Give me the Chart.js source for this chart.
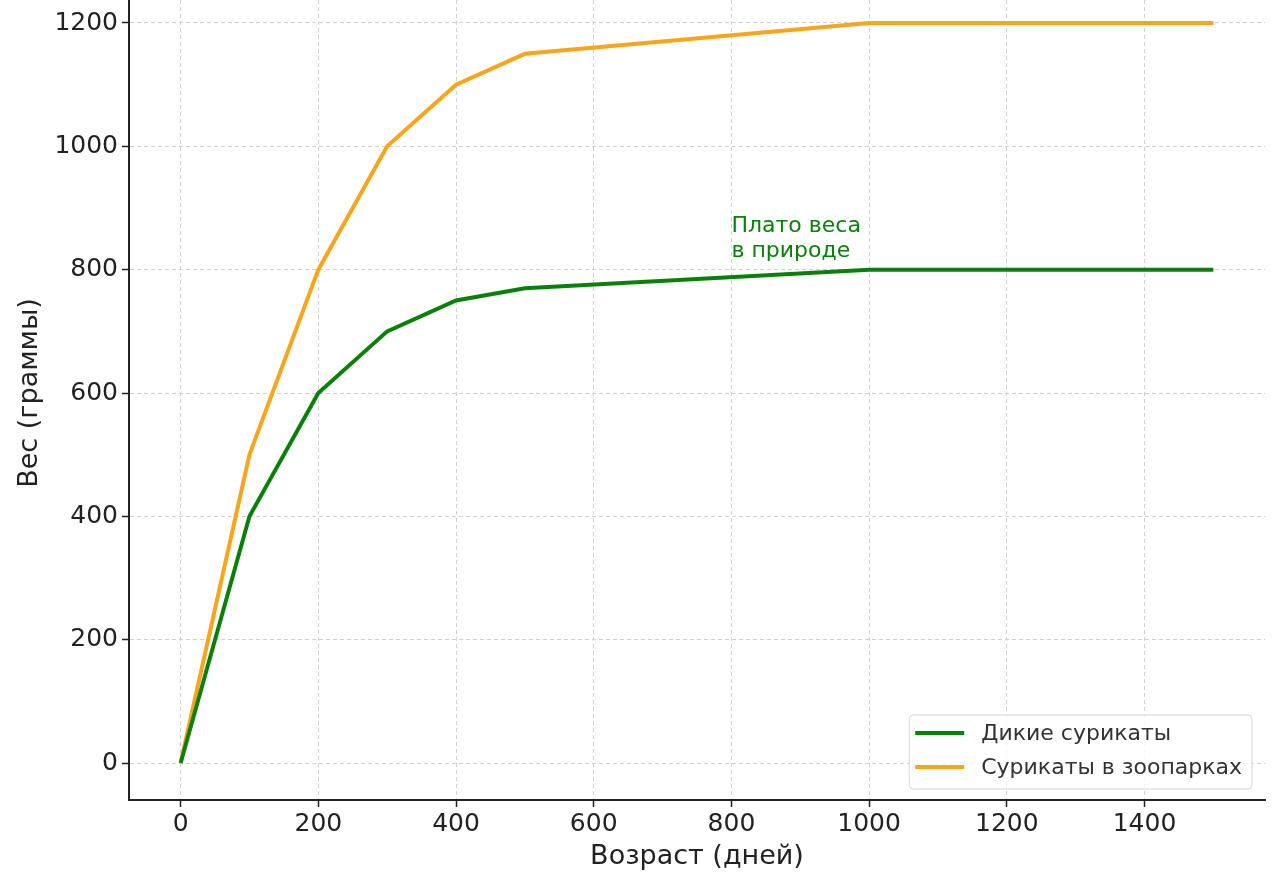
<!DOCTYPE html>
<html>
<head>
<meta charset="utf-8">
<script src="https://cdn.jsdelivr.net/npm/chart.js@4"></script>
<style>
  html, body { margin: 0; padding: 0; background: #fff; }
  #wrap { position: relative; width: 1280px; height: 887px; overflow: hidden; }
  #chart { position: absolute; left: 0; top: -14px; }
</style>
</head>
<body>
<div id="wrap"><canvas id="chart" width="1280" height="901"></canvas></div>
<script>
// ages in days
const ages = [0, 100, 200, 300, 400, 500, 1000, 1500];
// weight in grams
const wildWeight = [0, 400, 600, 700, 750, 770, 800, 800];
const zooWeight = [0, 500, 800, 1000, 1100, 1150, 1200, 1200];
const seriesNames = ["Дикие сурикаты", "Сурикаты в зоопарках"];
const seriesColors = ["#0a800a", "#f7a51c"];
const xTicks = [0, 200, 400, 600, 800, 1000, 1200, 1400];
const yTicks = [0, 200, 400, 600, 800, 1000, 1200];
const note = { x: 800, y: 820, lines: ["Плато веса", "в природе"] };

const FONT = "'DejaVu Sans', sans-serif";

function toPoints(ys) {
  return ages.map((a, i) => ({ x: a, y: ys[i] }));
}

// legend box in lower right, matplotlib style
const legendBox = {
  id: "legendBox",
  afterDatasetsDraw(chart) {
    const { ctx, chartArea } = chart;
    ctx.save();
    ctx.font = "22px " + FONT;
    const textW = Math.max(...seriesNames.map(n => ctx.measureText(n).width));
    const w = 6 + 49 + 17 + textW + 10;
    const h = 74;
    const right = chartArea.right - 13;
    const bottom = chartArea.bottom - 11;
    const left = right - w;
    const top = bottom - h;
    ctx.beginPath();
    ctx.roundRect(left, top, w, h, 4);
    ctx.fillStyle = "rgba(255,255,255,0.8)";
    ctx.fill();
    ctx.strokeStyle = "#d5d5d5";
    ctx.lineWidth = 1;
    ctx.stroke();
    seriesNames.forEach((name, i) => {
      const yy = top + 18 + i * 34;
      ctx.beginPath();
      ctx.moveTo(left + 6, yy);
      ctx.lineTo(left + 55, yy);
      ctx.strokeStyle = seriesColors[i];
      ctx.lineWidth = 4;
      ctx.stroke();
      ctx.fillStyle = "#333";
      ctx.textBaseline = "middle";
      ctx.textAlign = "left";
      ctx.fillText(name, left + 72, yy + 1);
    });
    ctx.restore();
  }
};

// text annotation near the wild plateau
const plateauNote = {
  id: "plateauNote",
  afterDatasetsDraw(chart) {
    const { ctx, scales } = chart;
    const px = scales.x.getPixelForValue(note.x);
    const py = scales.y.getPixelForValue(note.y);
    ctx.save();
    ctx.font = "22px " + FONT;
    ctx.fillStyle = "#0a800a";
    ctx.textAlign = "left";
    ctx.textBaseline = "alphabetic";
    const n = note.lines.length;
    note.lines.forEach((t, i) => {
      ctx.fillText(t, px, py - (n - 1 - i) * 25);
    });
    ctx.restore();
  }
};

const keepTicks = list => scale => {
  scale.ticks = list.map(v => ({ value: v }));
};

const gridOpts = {
  color: "#d0d0d0",
  lineWidth: 1,
  tickLength: 7,
  tickColor: "#222",
  tickBorderDash: [],
  tickWidth: 1.5
};
const borderOpts = { display: true, color: "#222", width: 2, dash: [4, 3] };

new Chart(document.getElementById("chart"), {
  type: "line",
  data: {
    datasets: [
      {
        label: seriesNames[0],
        data: toPoints(wildWeight),
        borderColor: seriesColors[0],
        borderWidth: 4,
        pointRadius: 0,
        fill: false,
        tension: 0
      },
      {
        label: seriesNames[1],
        data: toPoints(zooWeight),
        borderColor: seriesColors[1],
        borderWidth: 4,
        pointRadius: 0,
        fill: false,
        tension: 0
      }
    ]
  },
  options: {
    responsive: false,
    devicePixelRatio: 1,
    animation: false,
    layout: { padding: { top: 0, right: 15, left: 0, bottom: 0 } },
    plugins: {
      legend: { display: false },
      tooltip: { enabled: false }
    },
    scales: {
      x: {
        type: "linear",
        min: -75,
        max: 1575,
        afterBuildTicks: keepTicks(xTicks),
        afterFit(scale) {
          scale.height = 87;
          scale.paddingLeft = 0;
          scale.paddingRight = 0;
        },
        grid: gridOpts,
        border: borderOpts,
        ticks: {
          color: "#222",
          font: { family: FONT, size: 25 },
          padding: 2,
          maxRotation: 0,
          callback: v => String(v)
        },
        title: {
          display: true,
          text: "Возраст (дней)",
          color: "#222",
          font: { family: FONT, size: 27 },
          padding: { top: 0, bottom: 14 }
        }
      },
      y: {
        type: "linear",
        min: -60,
        max: 1260,
        afterBuildTicks: keepTicks(yTicks),
        afterFit(scale) {
          scale.width = 129;
          scale.paddingTop = 0;
          scale.paddingBottom = 0;
        },
        grid: gridOpts,
        border: borderOpts,
        ticks: {
          color: "#222",
          font: { family: FONT, size: 25 },
          padding: 4,
          callback: v => String(v)
        },
        title: {
          display: true,
          text: "Вес (граммы)",
          color: "#222",
          font: { family: FONT, size: 27 },
          padding: { top: 14, bottom: 0 }
        }
      }
    }
  },
  plugins: [legendBox, plateauNote]
});
</script>
</body>
</html>
